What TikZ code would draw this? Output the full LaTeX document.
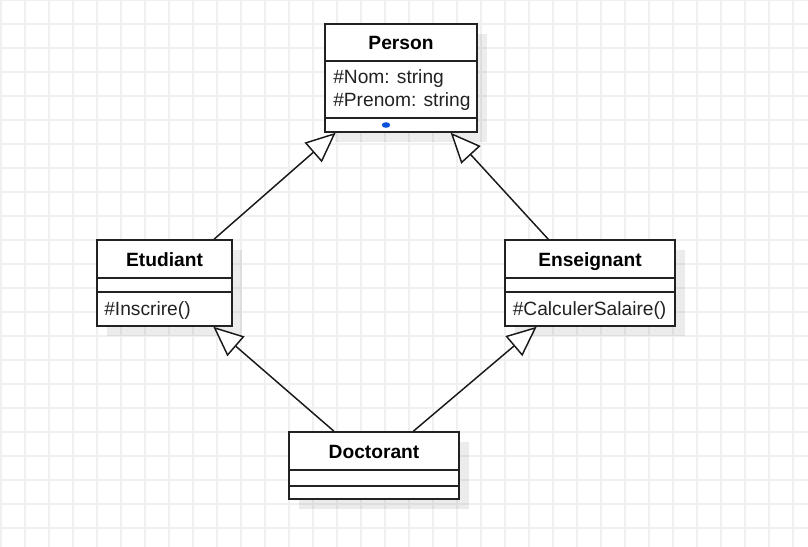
\documentclass[tikz,border=0pt]{standalone}
\usepackage{fontspec}
\setmainfont{Liberation Sans}
\usetikzlibrary{arrows.meta}
\definecolor{gridc}{HTML}{F0F0F0}
\definecolor{linec}{HTML}{222222}
\definecolor{dotc}{HTML}{0A50D8}
\tikzset{
  umlbox/.style={draw=linec, line width=1.1pt, fill=white, inner sep=0pt},
  shadowbox/.style={fill=black, fill opacity=0.075, draw=none},
  divider/.style={draw=linec, line width=1.1pt},
  titletext/.style={font=\fontsize{14.4pt}{17pt}\selectfont\bfseries, text=black, inner sep=0pt, anchor=base},
  membertext/.style={font=\fontsize{14.4pt}{17pt}\selectfont, text=linec, inner sep=0pt, anchor=base west},
  inherit/.style={draw=black!90, line width=1.1pt, line join=miter,
    -{Triangle[length=22.5pt, width=19.5pt, fill=white, line join=miter]}},
}
\begin{document}
\begin{tikzpicture}[x=0.75pt, y=-0.75pt]
\useasboundingbox (0,0) rectangle (808,547);
\fill[white] (0,0) rectangle (808,547);
% grid
\foreach \k in {0,...,33} { \draw[gridc, line width=0.8pt] ({1+24*\k},0) -- ({1+24*\k},547); }
\foreach \k in {0,...,22} { \draw[gridc, line width=0.8pt] (0,{24*\k}) -- (808,{24*\k}); }
% shadows
\fill[shadowbox] (335,34) rectangle (487,142);
\fill[shadowbox] (107,250) rectangle (242,336);
\fill[shadowbox] (515,250) rectangle (685,336);
\fill[shadowbox] (299,442) rectangle (469,509);
% boxes
\node[umlbox, minimum width=152*0.75pt, minimum height=108*0.75pt] (person) at (401,78) {};
\node[umlbox, minimum width=135*0.75pt, minimum height=86*0.75pt] (etud) at (164.5,283) {};
\node[umlbox, minimum width=170*0.75pt, minimum height=86*0.75pt] (ens) at (590,283) {};
\node[umlbox, minimum width=170*0.75pt, minimum height=67*0.75pt] (doc) at (374,465.5) {};
% compartments
\draw[divider] (person.west |- 0,61) -- (person.east |- 0,61);
\draw[divider] (person.west |- 0,118) -- (person.east |- 0,118);
\draw[divider] (etud.west |- 0,278) -- (etud.east |- 0,278);
\draw[divider] (etud.west |- 0,292) -- (etud.east |- 0,292);
\draw[divider] (ens.west |- 0,278) -- (ens.east |- 0,278);
\draw[divider] (ens.west |- 0,292) -- (ens.east |- 0,292);
\draw[divider] (doc.west |- 0,470) -- (doc.east |- 0,470);
\draw[divider] (doc.west |- 0,486) -- (doc.east |- 0,486);
% texts
\node[titletext] (persontitle) at (401,49.5) {Person};
\node[membertext] (nom) at (333,83) {\#Nom: string};
\node[membertext] (prenom) at (333,106) {\#Prenom: string};
\fill[dotc] (386,125) ellipse (4.2 and 2.8);
\node[titletext] (etudtitle) at (164.5,266) {Etudiant};
\node[membertext] (inscrire) at (104,315) {\#Inscrire()};
\node[titletext] (enstitle) at (590,266) {Enseignant};
\node[membertext] (salaire) at (512.5,315) {\#CalculerSalaire()};
\node[titletext] (doctitle) at (374,458) {Doctorant};
% inheritance connectors
\draw[inherit] (etud.north -| 214,0) -- (person.south -| 335.7,0);
\draw[inherit] (ens.north -| 548.3,0) -- (person.south -| 450.7,0);
\draw[inherit] (doc.north -| 334,0) -- (etud.south -| 213.3,0);
\draw[inherit] (doc.north -| 413.3,0) -- (ens.south -| 536.7,0);
\end{tikzpicture}
\end{document}
